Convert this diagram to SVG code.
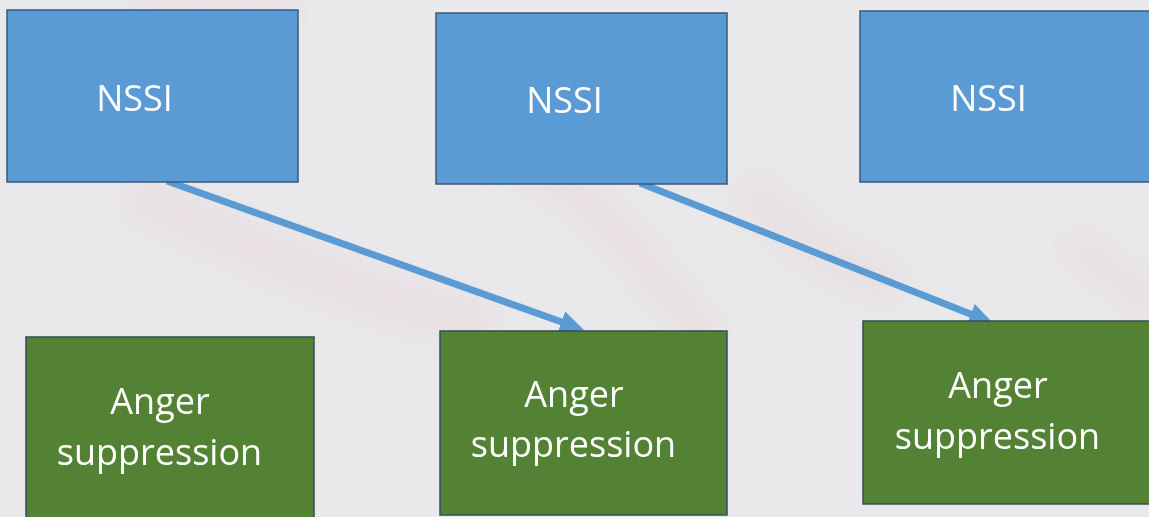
<svg xmlns="http://www.w3.org/2000/svg" width="1149" height="517" viewBox="0 0 1149 517">
  <defs>
    <style>
      .nssi { fill: #5B9BD5; stroke: #35597C; stroke-width: 1.5; }
      .anger { fill: #548235; stroke: #344B5E; stroke-width: 1.5; }
      .label { font-family: "Open Sans", "Noto Sans", sans-serif; font-size: 36px; fill: #FFFFFF; text-anchor: middle; }
      .link { stroke: #5B9BD5; stroke-width: 7; fill: none; marker-end: url(#head); }
      .wash { fill: none; stroke: #E8CCD2; stroke-linecap: round; opacity: 0.28; }
    </style>
    <marker id="head" viewBox="0 -12 24 24" refX="1" refY="0" markerWidth="24" markerHeight="24" markerUnits="userSpaceOnUse" orient="auto">
      <path d="M0,-11 L24,0 L0,11 Z" fill="#5B9BD5"/>
    </marker>
    <filter id="soft" x="-20%" y="-20%" width="140%" height="140%">
      <feGaussianBlur stdDeviation="12"/>
    </filter>
  </defs>

  <!-- paper background with faint brush wash -->
  <rect x="0" y="0" width="1149" height="517" fill="#E9E8EA"/>
  <g filter="url(#soft)">
    <path class="wash" stroke-width="45" d="M150,200 C260,250 360,300 470,320"/>
    <path class="wash" stroke-width="35" d="M520,160 C600,200 640,260 700,330"/>
    <path class="wash" stroke-width="40" d="M760,200 C800,240 830,260 880,280"/>
    <path class="wash" stroke-width="30" d="M150,20 C200,10 240,20 280,15"/>
    <path class="wash" stroke-width="30" d="M1080,250 C1110,270 1130,290 1149,300"/>
  </g>

  <!-- connectors -->
  <g id="connectors">
    <line class="link" x1="167" y1="181" x2="562.4" y2="322.3"/>
    <line class="link" x1="640" y1="183" x2="971.6" y2="314.5"/>
  </g>

  <!-- top row: NSSI -->
  <g id="nssi-1">
    <rect class="nssi" x="7" y="10" width="291" height="172"/>
    <text class="label" x="134.5" y="111">NSSI</text>
  </g>
  <g id="nssi-2">
    <rect class="nssi" x="436" y="13" width="291" height="171"/>
    <text class="label" x="564.5" y="113">NSSI</text>
  </g>
  <g id="nssi-3">
    <rect class="nssi" x="860" y="11" width="295" height="171"/>
    <text class="label" x="988.5" y="111">NSSI</text>
  </g>

  <!-- bottom row: Anger suppression -->
  <g id="anger-1">
    <rect class="anger" x="26" y="337" width="288" height="190"/>
    <text class="label" x="160" y="414">Anger</text>
    <text class="label" x="159.5" y="465">suppression</text>
  </g>
  <g id="anger-2">
    <rect class="anger" x="440" y="331" width="287" height="184"/>
    <text class="label" x="574" y="407">Anger</text>
    <text class="label" x="573.5" y="457">suppression</text>
  </g>
  <g id="anger-3">
    <rect class="anger" x="863" y="321" width="295" height="183"/>
    <text class="label" x="998" y="398">Anger</text>
    <text class="label" x="997.5" y="449">suppression</text>
  </g>
</svg>
